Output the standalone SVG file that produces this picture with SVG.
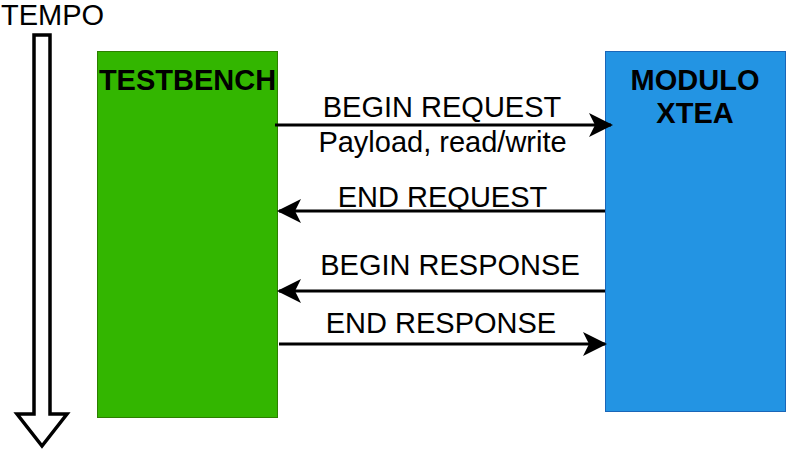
<svg xmlns="http://www.w3.org/2000/svg" width="808" height="460" viewBox="0 0 808 460">
<style>
text{font-family:"Liberation Sans",Arial,sans-serif;fill:#000}
.lbl{font-size:29px;text-anchor:middle}
.title{font-size:29px;font-weight:bold;text-anchor:middle}
.conn{stroke:#000;stroke-width:3;fill:none}
</style>
<defs>
<marker id="ahs" markerWidth="24" markerHeight="24" viewBox="0 0 24 24" refX="22" refY="12" orient="auto" markerUnits="userSpaceOnUse">
<path d="M0,0 L24,12 L0,24 L6,12 Z" fill="#000"/>
</marker>
</defs>
<g id="tempo">
<text x="52.5" y="25" font-size="29" text-anchor="middle" style="font-family:'Liberation Sans',Arial,sans-serif">TEMPO</text>
<path d="M34,35 L50,35 L50,414 L67,414 L42,446 L17,414 L34,414 Z" fill="#fff" stroke="#000" stroke-width="3.5" stroke-linejoin="miter"/>
</g>
<g id="testbench">
<rect x="97.5" y="51.5" width="180" height="366" fill="#33b600" stroke="#2d7f00" stroke-width="1"/>
<text class="title" x="187.5" y="90">TESTBENCH</text>
</g>
<g id="modulo">
<rect x="605.5" y="51.5" width="180" height="360" fill="#2394e3" stroke="#1a66b8" stroke-width="1"/>
<text class="title" x="695" y="90">MODULO</text>
<text class="title" x="695" y="123">XTEA</text>
</g>
<g id="connectors">
<line class="conn" x1="275" y1="125" x2="611" y2="125" marker-end="url(#ahs)"/>
<line class="conn" x1="605" y1="211" x2="279" y2="211" marker-end="url(#ahs)"/>
<line class="conn" x1="605" y1="291" x2="279" y2="291" marker-end="url(#ahs)"/>
<line class="conn" x1="279" y1="344" x2="605" y2="344" marker-end="url(#ahs)"/>
<text class="lbl" x="442" y="117">BEGIN REQUEST</text>
<text class="lbl" x="442.5" y="152">Payload, read/write</text>
<text class="lbl" x="442.5" y="207">END REQUEST</text>
<text class="lbl" x="450" y="275">BEGIN RESPONSE</text>
<text class="lbl" x="441" y="333">END RESPONSE</text>
</g>
</svg>
